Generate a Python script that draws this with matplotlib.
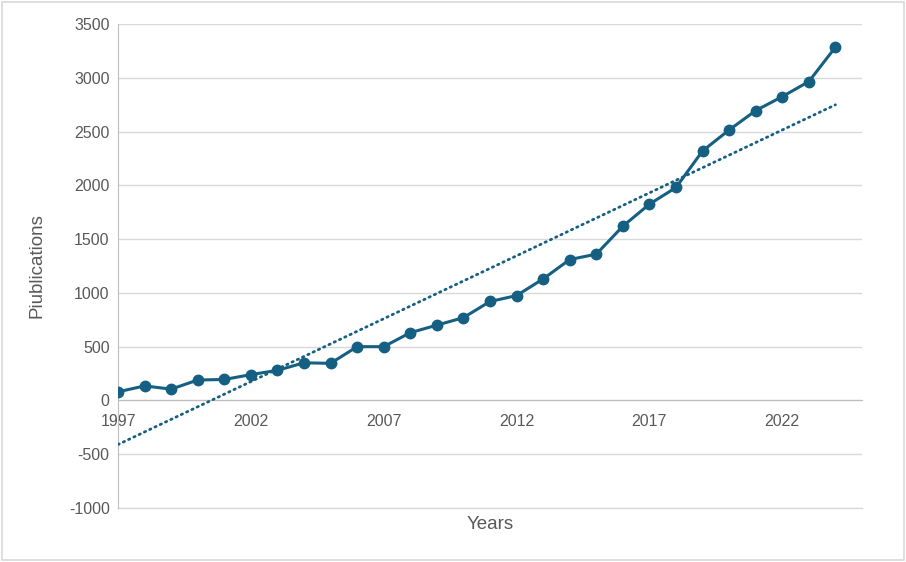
import numpy as np
import matplotlib.pyplot as plt
from matplotlib.patches import Rectangle

years = list(range(1997, 2025))
pubs = [80, 135, 105, 190, 195, 240, 280, 350, 345, 500,
        500, 630, 700, 770, 920, 975, 1130, 1310, 1360, 1620,
        1825, 1980, 2320, 2515, 2695, 2825, 2965, 3285]
xticks = [1997, 2002, 2007, 2012, 2017, 2022]
yticks = list(range(-1000, 3501, 500))

color = '#156082'
grey = '#595959'
plt.rcParams['font.family'] = ['Liberation Sans', 'DejaVu Sans']
plt.rcParams['axes.unicode_minus'] = False

fig = plt.figure(figsize=(9.06, 5.62), dpi=100)
ax = fig.add_axes([118/906, 1 - 508/562, (862-118)/906, (508-24)/562])

# linear trendline
k, b = np.polyfit(years, pubs, 1)
tx = np.array([years[0], years[-1]])
ax.plot(tx, k*tx + b, color=color, lw=2, linestyle=(0, (0.5, 1.6)),
        dash_capstyle='round', zorder=3)

ax.plot(years, pubs, color=color, lw=2.2, marker='o', markersize=7.5, zorder=4)

ax.set_xlim(1997, 2025)
ax.set_ylim(-1000, 3500)
ax.set_xticks(xticks)
ax.set_yticks(yticks)
ax.grid(axis='y', color='#d9d9d9', lw=1)
ax.axhline(-1000, color='#d9d9d9', lw=1, clip_on=False, zorder=0)
ax.set_axisbelow(True)
for s in ['top', 'right']:
    ax.spines[s].set_visible(False)
ax.spines['bottom'].set_position(('data', 0))
ax.spines['bottom'].set_color('#bfbfbf')
ax.spines['left'].set_color('#bfbfbf')
ax.tick_params(length=0, labelsize=11.5, colors=grey, pad=6)
ax.tick_params(axis='x', pad=10)

ax.set_ylabel('Piublications', fontsize=13.5, color=grey)
ax.yaxis.set_label_coords(-0.097, 0.5)
ax.set_xlabel('Years', fontsize=13.5, color=grey)
ax.xaxis.set_label_coords(0.5, -0.016)

fig.patches.append(Rectangle((2/906, 2/562), 1 - 4/906, 1 - 4/562,
                             transform=fig.transFigure, fill=False,
                             edgecolor='#d9d9d9', lw=1.2))

fig.savefig('out.png', dpi=100)
